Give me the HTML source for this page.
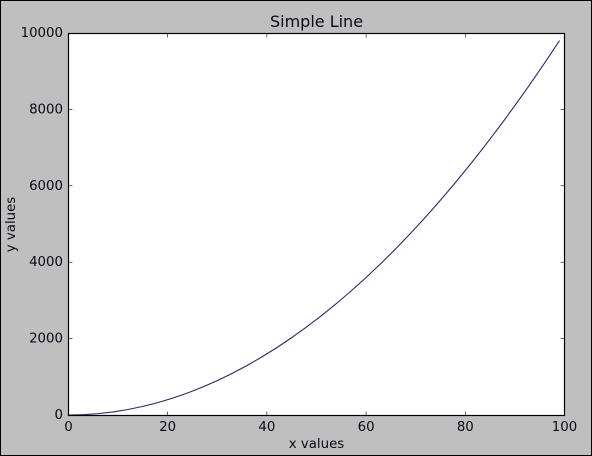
<!DOCTYPE html>
<html>
<head>
<meta charset="utf-8">
<style>
html,body{margin:0;padding:0;background:#bfbfbf;}
svg{display:block;}
text{font-family:"DejaVu Sans","Liberation Sans",sans-serif;fill:#0a0a14;}
</style>
</head>
<body>
<svg id="chart" xmlns="http://www.w3.org/2000/svg" width="592" height="456" viewBox="0 0 592 456">
<rect x="0.5" y="0.5" width="591" height="455" fill="#bfbfbf" stroke="#000" stroke-width="1"/>
<rect x="68.5" y="33.5" width="496" height="382" fill="#fff"/>
<g id="marks"></g>
<rect x="68.5" y="33.5" width="496" height="382" fill="none" stroke="#000" stroke-width="1.2"/>
<text x="316.5" y="27" font-size="16" text-anchor="middle">Simple Line</text>
<text x="316.5" y="448" font-size="13.33" text-anchor="middle">x values</text>
<text transform="translate(15 224.5) rotate(-90)" font-size="13.33" text-anchor="middle">y values</text>
</svg>
<script>
var xValues = [0,3,6,9,12,15,18,21,24,27,30,33,36,39,42,45,48,51,54,57,60,63,66,69,72,75,78,81,84,87,90,93,96,99];
var yValues = [0,9,36,81,144,225,324,441,576,729,900,1089,1296,1521,1764,2025,2304,2601,2916,3249,3600,3969,4356,4761,5184,5625,6084,6561,7056,7569,8100,8649,9216,9801];
var xTicks = [0,20,40,60,80,100];
var yTicks = [0,2000,4000,6000,8000,10000];

var NS = 'http://www.w3.org/2000/svg';
var marks = document.getElementById('marks');
function sx(v){ return 68.5 + v / 100 * 496; }
function sy(v){ return 415 - v / 10000 * 382; }
function make(tag, attrs, text){
  var el = document.createElementNS(NS, tag);
  for (var k in attrs) el.setAttribute(k, attrs[k]);
  if (text !== undefined) el.textContent = text;
  marks.appendChild(el);
  return el;
}
xTicks.forEach(function(t){
  var x = sx(t);
  if (t > 0 && t < 100) {
    var a = make('line', {x1:x, x2:x, y1:415.5, y2:411.5, stroke:'#000', 'stroke-width':0.6});
    
    
    var b = make('line', {x1:x, x2:x, y1:33.5, y2:37.5, stroke:'#000', 'stroke-width':0.6});
    
    
  }
  var l = make('text', {x:x, y:431, 'font-size':13.33, 'text-anchor':'middle'}, String(t));
  
  
});
yTicks.forEach(function(t){
  var y = sy(t);
  if (t > 0 && t < 10000) {
    var a = make('line', {x1:68.5, x2:72.5, y1:y, y2:y, stroke:'#000', 'stroke-width':0.6});
    
    
    var b = make('line', {x1:564.5, x2:560.5, y1:y, y2:y, stroke:'#000', 'stroke-width':0.6});
    
    
  }
  var l = make('text', {x:63, y:y + 4, 'font-size':13.33, 'text-anchor':'end'}, String(t));
  
  
});
var pts = xValues.map(function(v, i){ return sx(v).toFixed(2) + ',' + sy(yValues[i]).toFixed(2); }).join(' ');
var line = make('polyline', {points:pts, fill:'none', stroke:'#2a2576', 'stroke-width':1.1});


</script>
</body>
</html>
